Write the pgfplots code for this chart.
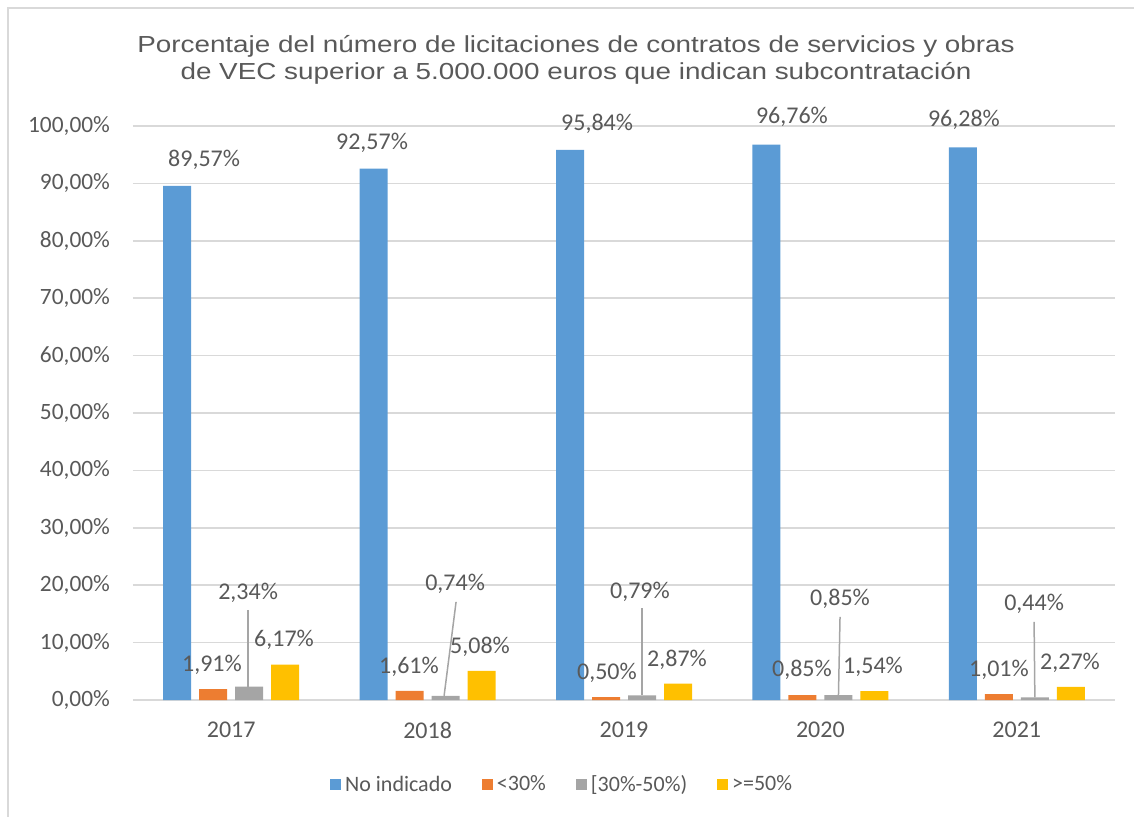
\documentclass[border=0pt]{standalone}
\usepackage{pgfplots}
\pgfplotsset{compat=1.18}
\usepackage{fontspec}
\setmainfont{Carlito}
\newfontfamily\titlefont{Liberation Sans}[FakeStretch=1.2]
\definecolor{cblue}{HTML}{5B9BD5}
\definecolor{corange}{HTML}{ED7D31}
\definecolor{cgray}{HTML}{A5A5A5}
\definecolor{cyellow}{HTML}{FFC000}
\definecolor{ctext}{HTML}{595959}
\definecolor{cgrid}{HTML}{D9D9D9}
\newcommand{\lbrk}{[}
\begin{document}
\begin{tikzpicture}
\useasboundingbox (-66.5pt,-58pt) rectangle (500.5pt,350pt);
\draw[cgrid, line width=1pt] (-62.5pt,-70pt) -- (-62.5pt,346pt) -- (510pt,346pt);
\node[anchor=base, font=\titlefont\fontsize{11.6}{13}\selectfont, text=ctext] at (221.5pt,323.5pt) {Porcentaje del número de licitaciones de contratos de servicios y obras};
\node[anchor=base, font=\titlefont\fontsize{11.6}{13}\selectfont, text=ctext] at (221.5pt,310pt) {de VEC superior a 5.000.000 euros que indican subcontratación};
\begin{axis}[
  at={(0pt,0pt)}, anchor=south west,
  scale only axis, width=491pt, height=287pt,
  xmin=-0.5, xmax=4.5, ymin=0, ymax=100,
  ybar=4pt, bar width=14pt,
  clip=false,
  axis line style={draw=none},
  major tick length=0pt,
  ymajorgrids, grid style={cgrid, line width=0.75pt},
  ytick={0,10,...,100},
  yticklabel={\pgfmathprintnumber[fixed,fixed zerofill,precision=2,use comma,assume math mode=true]{\tick}\%},
  yticklabel style={font=\fontsize{11.7}{13}\selectfont, text=ctext, xshift=-8pt},
  xtick={0,1,2,3,4},
  xticklabels={2017,2018,2019,2020,2021},
  xticklabel style={font=\fontsize{12}{14}\selectfont, text=ctext, yshift=-7.5pt},
  legend style={at={(0.438,-0.148)}, anchor=center, draw=none, legend columns=4,
    font=\fontsize{11}{13}\selectfont, text=ctext,
    /tikz/every even column/.append style={column sep=13pt}},
  legend image code/.code={\fill[#1] (0pt,-2.75pt) rectangle (5.5pt,2.75pt);},
]
\addplot[fill=cblue, draw=none] coordinates {(0,89.57) (1,92.57) (2,95.84) (3,96.76) (4,96.28)};
\addlegendentry{No indicado}
\addplot[fill=corange, draw=none] coordinates {(0,1.91) (1,1.61) (2,0.50) (3,0.85) (4,1.01)};
\addlegendentry{<30\%}
\addplot[fill=cgray, draw=none] coordinates {(0,2.34) (1,0.74) (2,0.79) (3,0.85) (4,0.44)};
\addlegendentry{\lbrk 30\%-50\%)}
\addplot[fill=cyellow, draw=none] coordinates {(0,6.17) (1,5.08) (2,2.87) (3,1.54) (4,2.27)};
\addlegendentry{>=50\%}
% leader lines
\draw[cgray, line width=0.75pt] (axis cs:0.086,15.7) -- (axis cs:0.086,2.34);
\draw[cgray, line width=0.75pt] (axis cs:1.145,17.1) -- (axis cs:1.084,0.74);
\draw[cgray, line width=0.75pt] (axis cs:2.092,16.0) -- (axis cs:2.092,0.79);
\draw[cgray, line width=0.75pt] (axis cs:3.100,14.5) -- (axis cs:3.092,0.85);
\draw[cgray, line width=0.75pt] (axis cs:4.088,13.6) -- (axis cs:4.092,0.44);
% labels
\tikzset{lbl/.style={font=\fontsize{12}{14}\selectfont, text=ctext, inner sep=0pt, anchor=center}}
\node[lbl] at (axis cs:-0.138,94.1) {89,57\%};
\node[lbl] at (axis cs:0.717,97.0) {92,57\%};
\node[lbl] at (axis cs:1.863,100.3) {95,84\%};
\node[lbl] at (axis cs:2.855,101.6) {96,76\%};
\node[lbl] at (axis cs:3.731,101.0) {96,28\%};
\node[lbl] at (axis cs:-0.098,6.1) {1,91\%};
\node[lbl] at (axis cs:0.905,5.75) {1,61\%};
\node[lbl] at (axis cs:1.913,4.7) {0,50\%};
\node[lbl] at (axis cs:2.906,5.2) {0,85\%};
\node[lbl] at (axis cs:3.909,5.2) {1,01\%};
\node[lbl] at (axis cs:0.086,18.6) {2,34\%};
\node[lbl] at (axis cs:1.140,20.2) {0,74\%};
\node[lbl] at (axis cs:2.081,18.8) {0,79\%};
\node[lbl] at (axis cs:3.100,17.6) {0,85\%};
\node[lbl] at (axis cs:4.088,16.7) {0,44\%};
\node[lbl] at (axis cs:0.269,10.45) {6,17\%};
\node[lbl] at (axis cs:1.267,9.2) {5,08\%};
\node[lbl] at (axis cs:2.270,7.0) {2,87\%};
\node[lbl] at (axis cs:3.268,5.75) {1,54\%};
\node[lbl] at (axis cs:4.271,6.4) {2,27\%};
\end{axis}
\end{tikzpicture}
\end{document}
